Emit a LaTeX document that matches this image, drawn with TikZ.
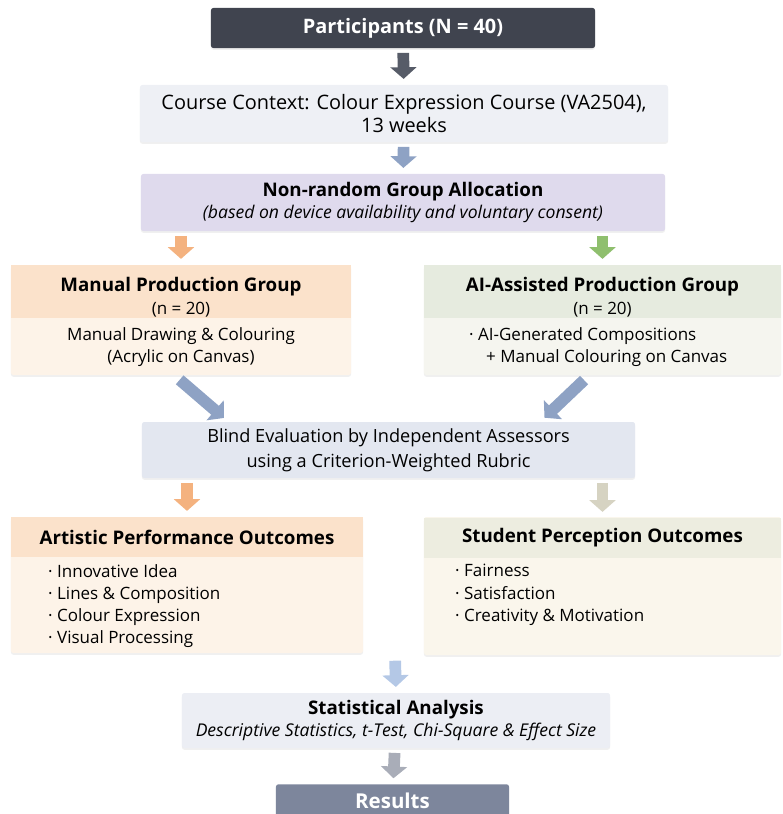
\documentclass[tikz,border=0pt]{standalone}
\usepackage{fontspec}
\setmainfont{Open Sans}
\usetikzlibrary{arrows.meta, calc, shadows}

\definecolor{partfill}{HTML}{40444F}
\definecolor{darkarr}{HTML}{575C68}
\definecolor{coursefill}{HTML}{EEF0F5}
\definecolor{bluearr}{HTML}{8EA2C4}
\definecolor{allocfill}{HTML}{DFDAED}
\definecolor{orangearr}{HTML}{F4B27F}
\definecolor{greenarr}{HTML}{8FBF6E}
\definecolor{peachhd}{HTML}{FBE2CB}
\definecolor{peachbd}{HTML}{FDF3E8}
\definecolor{sagehd}{HTML}{E6EBDF}
\definecolor{sagebd}{HTML}{F5F5EF}
\definecolor{blindfill}{HTML}{E3E7F0}
\definecolor{beigearr}{HTML}{D6D3C2}
\definecolor{creamhd}{HTML}{EDEDE0}
\definecolor{creambd}{HTML}{FAF6EC}
\definecolor{lightarr}{HTML}{B4C8E6}
\definecolor{statfill}{HTML}{ECEEF4}
\definecolor{grayarr}{HTML}{A9ADB8}
\definecolor{resfill}{HTML}{7D869C}

\begin{document}
\begin{tikzpicture}[x=0.03cm, y=-0.03cm,
    box/.style={rectangle, rounded corners=2pt, inner sep=0pt, align=center,
        font=\fontsize{14.5}{19}\selectfont,
        drop shadow={shadow xshift=0pt, shadow yshift=-1.5pt, opacity=0.12}},
    flatbox/.style={rectangle, inner sep=0pt, font=\fontsize{14.5}{19}\selectfont},
    headfont/.style={font=\fontsize{16}{19}\selectfont},
    flow/.style={line width=10pt, -{Triangle[length=10pt, width=22pt]},
        shorten <=4pt, shorten >=5pt}]
    % Frame
    \useasboundingbox (0,0) rectangle (782,814);

    % Top of the flow
    \node[box, fill=partfill, text=white, font=\fontsize{17}{19}\selectfont\bfseries,
        minimum width=11.52cm, minimum height=1.2cm] (part) at (403,28) {Participants (N = 40)};
    \node[box, fill=coursefill, font=\fontsize{17}{19}\selectfont,
        minimum width=15.84cm, minimum height=1.71cm] (course) at (404,113.5)
        {Course Context: Colour Expression Course (VA2504),\\ 13 weeks};
    \node[box, fill=allocfill, minimum width=15.72cm, minimum height=1.71cm] (alloc) at (403,202.5)
        {\fontsize{16}{19}\selectfont\textbf{Non-random Group Allocation}\\
         {\itshape\fontsize{15}{18}\selectfont (based on device availability and voluntary consent)}};

    % Manual group
    \node[box, fill=peachbd, minimum width=10.2cm, minimum height=3.3cm] (man) at (181,320) {};
    \node[flatbox, fill=peachhd, minimum width=10.2cm, minimum height=1.59cm, align=center] (manhd) at (181,291.5)
        {\rule{0pt}{22pt}\fontsize{16}{21}\selectfont\textbf{Manual Production Group}\\ (n = 20)};
    \node[flatbox, minimum width=10.2cm, minimum height=1.71cm, align=center] (manbd) at (181,347)
        {Manual Drawing \& Colouring\\ (Acrylic on Canvas)};

    % AI group
    \node[box, fill=sagebd, minimum width=10.71cm, minimum height=3.3cm] (ai) at (602.5,320) {};
    \node[flatbox, fill=sagehd, minimum width=10.71cm, minimum height=1.59cm, align=center] (aihd) at (602.5,291.5)
        {\rule{0pt}{22pt}\fontsize{16}{21}\selectfont\textbf{AI-Assisted Production Group}\\ (n = 20)};
    \node[flatbox, align=left, anchor=west] (aibd) at (469,347)
        {· AI-Generated Compositions\\ \hspace{1em}+ Manual Colouring on Canvas};

    % Evaluation
    \node[box, fill=blindfill, font=\fontsize{15.5}{21}\selectfont,
        minimum width=14.79cm, minimum height=1.68cm] (blind) at (388.5,450)
        {Blind Evaluation by Independent Assessors\\ using a Criterion-Weighted Rubric};

    % Artistic outcomes
    \node[box, fill=peachbd, minimum width=10.56cm, minimum height=4.08cm] (art) at (187,585) {};
    \node[flatbox, fill=peachhd, headfont, minimum width=10.56cm, minimum height=1.2cm] (arthd) at (187,537)
        {\textbf{Artistic Performance Outcomes}};
    \node[flatbox, align=left, anchor=west] (artbd) at (48,606)
        {· Innovative Idea\\ · Lines \& Composition\\ · Colour Expression\\ · Visual Processing};

    % Student outcomes
    \node[box, fill=creambd, minimum width=10.71cm, minimum height=4.14cm] (stu) at (602.5,586) {};
    \node[flatbox, fill=creamhd, headfont, minimum width=10.71cm, minimum height=1.2cm] (stuhd) at (602.5,538)
        {\textbf{Student Perception Outcomes}};
    \node[flatbox, align=left, anchor=west] (stubd) at (455,595)
        {· Fairness\\ · Satisfaction\\ · Creativity \& Motivation};

    % Analysis and results
    \coordinate (join) at (395,656);
    \node[box, fill=statfill, minimum width=12.84cm, minimum height=1.65cm] (stat) at (396,720.5)
        {\fontsize{16}{21}\selectfont\textbf{Statistical Analysis}\\
         {\itshape\fontsize{15}{18}\selectfont Descriptive Statistics, t-Test, Chi-Square \& Effect Size}};
    \node[box, fill=resfill, text=white, font=\fontsize{17.5}{19}\selectfont\bfseries,
        minimum width=6.99cm, minimum height=1.0cm] (res) at (392.5,801) {Results};

    % Arrows
    \draw[flow, darkarr] (part) -- (course);
    \draw[flow, bluearr] (course) -- (alloc);
    \draw[flow, orangearr] (manhd.north |- alloc.south) -- (manhd.north);
    \draw[flow, greenarr] (aihd.north |- alloc.south) -- (aihd.north);
    \draw[flow, bluearr, shorten <=6pt] ([xshift=-0.2cm]man.south) -- ([xshift=2.6cm]blind.north west);
    \draw[flow, bluearr, shorten <=6pt] ([xshift=-0.4cm]ai.south) -- ([xshift=-2.85cm]blind.north east);
    \draw[flow, orangearr] (arthd.north |- blind.south) -- (arthd.north);
    \draw[flow, beigearr] (stuhd.north |- blind.south) -- (stuhd.north);
    \draw[flow, lightarr] (join) -- (stat.north);
    \draw[flow, grayarr] (stat) -- (res);
\end{tikzpicture}
\end{document}
